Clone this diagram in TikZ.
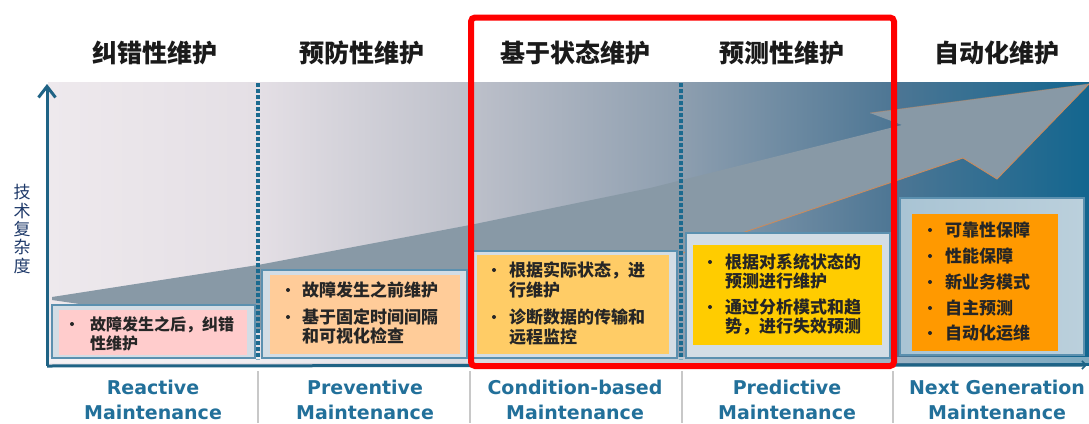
\documentclass[tikz,border=0pt]{standalone}
\usepackage{fontspec}
\newfontfamily\cjk{Noto Sans CJK SC}
\newfontfamily\dvs{DejaVu Sans}
\usetikzlibrary{arrows.meta}
\definecolor{bg0}{HTML}{EEE9ED}
\definecolor{bg1}{HTML}{E4DFE5}
\definecolor{bg2}{HTML}{BDC0CA}
\definecolor{bg3}{HTML}{8D9EAF}
\definecolor{bg4}{HTML}{4D7694}
\definecolor{bg5}{HTML}{13668F}
\definecolor{arrowfill}{HTML}{8899A6}
\definecolor{edgeorange}{HTML}{C98B5E}
\definecolor{dashcol}{HTML}{1B6A8F}
\definecolor{axiscol}{HTML}{1F6385}
\definecolor{outerfill}{HTML}{D3DDE5}
\definecolor{outerdraw}{HTML}{5B90AF}
\definecolor{pinkfill}{HTML}{FFCCCC}
\definecolor{peachfill}{HTML}{FFCC99}
\definecolor{condfill}{HTML}{FFCC66}
\definecolor{predfill}{HTML}{FFCC00}
\definecolor{nextfill}{HTML}{FF9900}
\definecolor{nextouterA}{HTML}{A9C4D4}
\definecolor{nextouterB}{HTML}{BBD0DC}
\definecolor{txtcol}{HTML}{262626}
\definecolor{headcol}{HTML}{1A1A1A}
\definecolor{labelblue}{HTML}{22709A}
\definecolor{axislab}{HTML}{1F3A6A}
\definecolor{sepcol}{HTML}{C8C8C8}
\pgfdeclarehorizontalshading{bgshade}{100bp}{color(0bp)=(bg0); color(25bp)=(bg0); color(35.1bp)=(bg1); color(45.3bp)=(bg2); color(55.5bp)=(bg3); color(65.6bp)=(bg4); color(75bp)=(bg5); color(100bp)=(bg5)}
\begin{document}
\begin{tikzpicture}[x=1pt,y=-1pt,
  header/.style={font=\cjk\bfseries\fontsize{25}{25}\selectfont, text=headcol, inner sep=0, anchor=center},
  txt/.style={font=\cjk\bfseries\fontsize{17}{20}\selectfont, text=txtcol, inner sep=0, anchor=base west},
  txtsmall/.style={font=\cjk\bfseries\fontsize{16}{19}\selectfont, text=txtcol, inner sep=0, anchor=base west},
  bottomlab/.style={font=\dvs\bfseries\fontsize{19}{25}\selectfont, text=labelblue, inner sep=0, align=center, anchor=center},
  outerbox/.style={fill=outerfill, draw=outerdraw, line width=1.3pt},
  dashline/.style={draw=dashcol, line width=3.2pt, dash pattern=on 4pt off 2pt},
  axisline/.style={draw=axiscol, line width=3pt},
  sepline/.style={draw=sepcol, line width=1.8pt},
  bulletdot/.style={fill=txtcol},
  orangeedge/.style={draw=edgeorange, line width=0.9pt}
]
\useasboundingbox (0,0) rectangle (1089,423);
\fill[white] (0,0) rectangle (1089,423);
% background gradient
\shade[shading=bgshade] (48,82) rectangle (1089,365);
% big arrow
\fill[arrowfill] (52,297) -- (258,265) -- (470,225) -- (650,188) -- (902,125) -- (870,113) -- (1089,84) -- (997,179) -- (963,158) -- (683,253) -- (470,326) -- (258,330) -- (52,300) -- cycle;
\draw[orangeedge] (683,253) -- (963,158) -- (997,179) -- (1089,84);
\draw[orangeedge, opacity=0.45] (870,113) -- (1089,84);
% dashed separators
\draw[dashline] (258,83) -- (258,360);
\draw[dashline] (681,83) -- (681,360);
% light band under boxes
\fill[white, opacity=0.45] (48,357) rectangle (1089,363);
% boxes
\path[outerbox] (52,305) rectangle (255,358);
\fill[pinkfill] (59,310) rectangle (247,355);
\path[outerbox] (262,270) rectangle (467,358);
\fill[peachfill] (270,275) rectangle (460,354);
\path[outerbox] (473,251) rectangle (677,358);
\fill[condfill] (477,255) rectangle (669,354);
\path[outerbox] (686,233) rectangle (890,358);
\fill[predfill] (693,245) rectangle (882,345);
\shade[left color=nextouterA, right color=nextouterB, draw=outerdraw, line width=1.3pt] (900,198) rectangle (1084,355);
\fill[nextfill] (912,214) rectangle (1058,351);
% axes
\coordinate (yaxisbottom) at (47,366);
\coordinate (yaxistop) at (47,84);
\coordinate (xaxisend) at (1087,365);
\draw[axisline, -{Straight Barb[length=11pt,width=17pt,line width=3pt]}] (yaxisbottom) -- (yaxistop);
\draw[axisline, -{Straight Barb[length=4pt,width=8pt,line width=1.5pt]}] (yaxisbottom) -- (xaxisend);
% headers
\node[header] (h1) at (155,53) {纠错性维护};
\node[header] (h2) at (362,53) {预防性维护};
\node[header] (h3) at (575,53) {基于状态维护};
\node[header] (h4) at (782,53) {预测性维护};
\node[header] (h5) at (997,53) {自动化维护};
% y-axis label
\node[font=\cjk\fontsize{17}{18.4}\selectfont, text=axislab, align=center, inner sep=0] (ylab) at (22,229) {技\\术\\复\\杂\\度};
% reactive text
\fill[bulletdot] (72,324) circle (2);
\node[txtsmall] (r1) at (90,330) {故障发生之后，纠错};
\node[txtsmall] (r2) at (90,349) {性维护};
% preventive text
\fill[bulletdot] (288,290) circle (2);
\fill[bulletdot] (288,317) circle (2);
\node[txt] (p1) at (302,296.5) {故障发生之前维护};
\node[txt] (p2) at (302,323.5) {基于固定时间间隔};
\node[txt] (p3) at (302,342.5) {和可视化检查};
% condition text
\fill[bulletdot] (494,270) circle (2);
\fill[bulletdot] (494,317) circle (2);
\node[txt] (c1) at (509,276.5) {根据实际状态，进};
\node[txt] (c2) at (509,296.5) {行维护};
\node[txt] (c3) at (509,323.5) {诊断数据的传输和};
\node[txt] (c4) at (509,343.5) {远程监控};
% predictive text
\fill[bulletdot] (710,262) circle (2);
\fill[bulletdot] (710,307) circle (2);
\node[txt] (d1) at (725,268.5) {根据对系统状态的};
\node[txt] (d2) at (725,287.5) {预测进行维护};
\node[txt] (d3) at (725,313.5) {通过分析模式和趋};
\node[txt] (d4) at (725,332.5) {势，进行失效预测};
% next generation text
\fill[bulletdot] (930,230) circle (2);
\fill[bulletdot] (930,256) circle (2);
\fill[bulletdot] (930,282) circle (2);
\fill[bulletdot] (930,308) circle (2);
\fill[bulletdot] (930,333) circle (2);
\node[txt] (n1) at (945,236.5) {可靠性保障};
\node[txt] (n2) at (945,262.5) {性能保障};
\node[txt] (n3) at (945,288.5) {新业务模式};
\node[txt] (n4) at (945,314.5) {自主预测};
\node[txt] (n5) at (945,339.5) {自动化运维};
% bottom separators
\draw[sepline] (258,371) -- (258,423);
\draw[sepline] (470,371) -- (470,423);
\draw[sepline] (682,371) -- (682,423);
\draw[sepline] (893,371) -- (893,423);
% bottom labels
\node[bottomlab] (b1) at (153,399.5) {Reactive\\Maintenance};
\node[bottomlab] (b2) at (365,399.5) {Preventive\\Maintenance};
\node[bottomlab] (b3) at (575,399.5) {Condition-based\\Maintenance};
\node[bottomlab] (b4) at (787,399.5) {Predictive\\Maintenance};
\node[bottomlab] (b5) at (997,399.5) {Next Generation\\Maintenance};
% red highlight frame
\draw[red, line width=6pt, rounded corners=4pt] (471,17.5) rectangle (894,366);
\end{tikzpicture}
\end{document}
